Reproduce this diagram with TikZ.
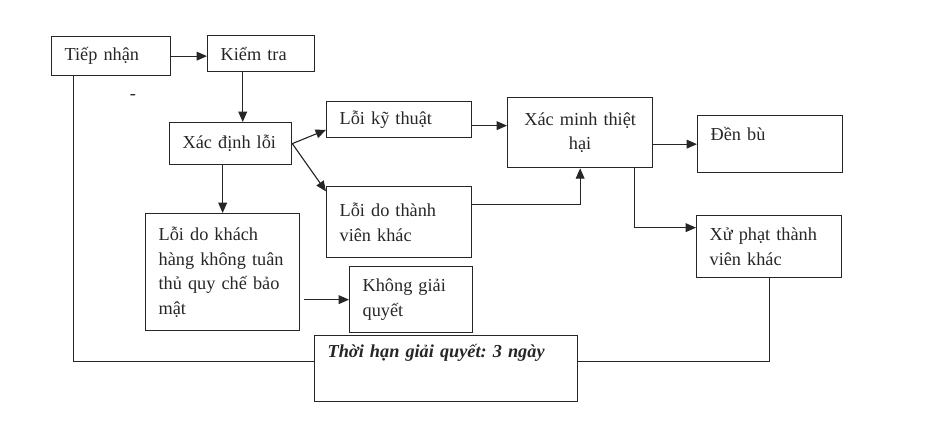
\documentclass[tikz,border=0pt]{standalone}
\usepackage{fontspec}
\setmainfont{Liberation Serif}
\usetikzlibrary{arrows.meta,calc}
\frenchspacing

\begin{document}
\begin{tikzpicture}[x=0.025cm,y=-0.025cm,color=black!85,line width=0.8pt,
  >={Triangle[length=2.6mm,width=2.2mm]},
  box/.style={draw,line width=0.9pt,anchor=north west,align=left,inner xsep=0.325cm,
    font=\fontsize{13}{17.5}\selectfont}]
  \useasboundingbox (0,0) rectangle (936,448);
  % boxes
  \node[box,text width=2.325cm,minimum height=0.975cm] (tiep) at (51,36) {Tiếp nhận};
  \node[box,text width=2.025cm,minimum height=0.9cm] (kiem) at (207,35) {Kiểm tra};
  \node[font=\fontsize{13}{17.5}\selectfont] (dash) at (133,97) {-};
  \node[box,text width=2.4cm,minimum height=1.05cm] (xacdinh) at (169,122) {Xác định lỗi};
  \node[box,text width=2.975cm,minimum height=0.9cm] (kythuat) at (326,101) {Lỗi kỹ thuật};
  \node[box,text width=2.975cm,minimum height=1.75cm,align=center] (xacminh) at (507,97) {Xác minh thiệt\\hại};
  \node[box,text width=2.975cm,minimum height=1.775cm] (thanhvien) at (326,186) {Lỗi do thành\\viên khác};
  \node[box,text width=2.975cm,minimum height=1.425cm,text height=12pt,text depth=17pt] (denbu) at (697,115) {Đền bù};
  \node[box,text width=2.975cm,minimum height=1.55cm] (xuphat) at (696,215) {Xử phạt thành\\viên khác};
  \node[box,text width=3.2cm,minimum height=2.925cm] (khachhang) at (145,213) {Lỗi do khách\\hàng không tuân\\thủ quy chế bảo\\mật};
  \node[box,text width=2.425cm,minimum height=1.65cm] (khonggq) at (349,266) {Không giải\\quyết};
  \node[box,text width=5.925cm,minimum height=1.65cm,text height=12pt,text depth=27.6pt,
    font=\fontsize{13}{17.5}\selectfont\bfseries\itshape] (thoihan) at (314,335) {Thời hạn giải quyết: 3 ngày};

  % arrows
  \draw[->] (tiep.east) -- (tiep.east -| kiem.west);
  \coordinate (k1) at ($(kiem.south west)!.33!(kiem.south east)$);
  \draw[->] (k1) -- (k1 |- xacdinh.north);
  \draw[->] (xacdinh.east) -- ($(kythuat.west)!.55!(kythuat.south west)$);
  \draw[->] (xacdinh.east) -- ($(thanhvien.north west)!.15!(thanhvien.west)$);
  \draw[->] (khachhang.north |- xacdinh.south) -- (khachhang.north);
  \coordinate (ky) at ([yshift=-0.15cm]kythuat.east);
  \draw[->] (ky) -- (ky -| xacminh.west);
  \coordinate (tv) at ($(thanhvien.east)!.5!(thanhvien.north east)$);
  \draw[->] (tv) -| (xacminh.south);
  \draw[->] (xacminh.east |- denbu.west) -- (denbu.west);
  \coordinate (xm) at ($(xacminh.south west)!.87!(xacminh.south east)$);
  \draw[->] (xm) |- ($(xuphat.north west)!.4!(xuphat.west)$);
  \draw[->,shorten <=0.1cm] (khachhang.east |- khonggq.west) -- (khonggq.west);

  % deadline line
  \coordinate (tn) at ($(tiep.south west)!.185!(tiep.south east)$);
  \draw (tn) |- ($(thoihan.west)!.2!(thoihan.north west)$);
  \draw ($(thoihan.east)!.2!(thoihan.north east)$) -| (xuphat.south);
\end{tikzpicture}
\end{document}
